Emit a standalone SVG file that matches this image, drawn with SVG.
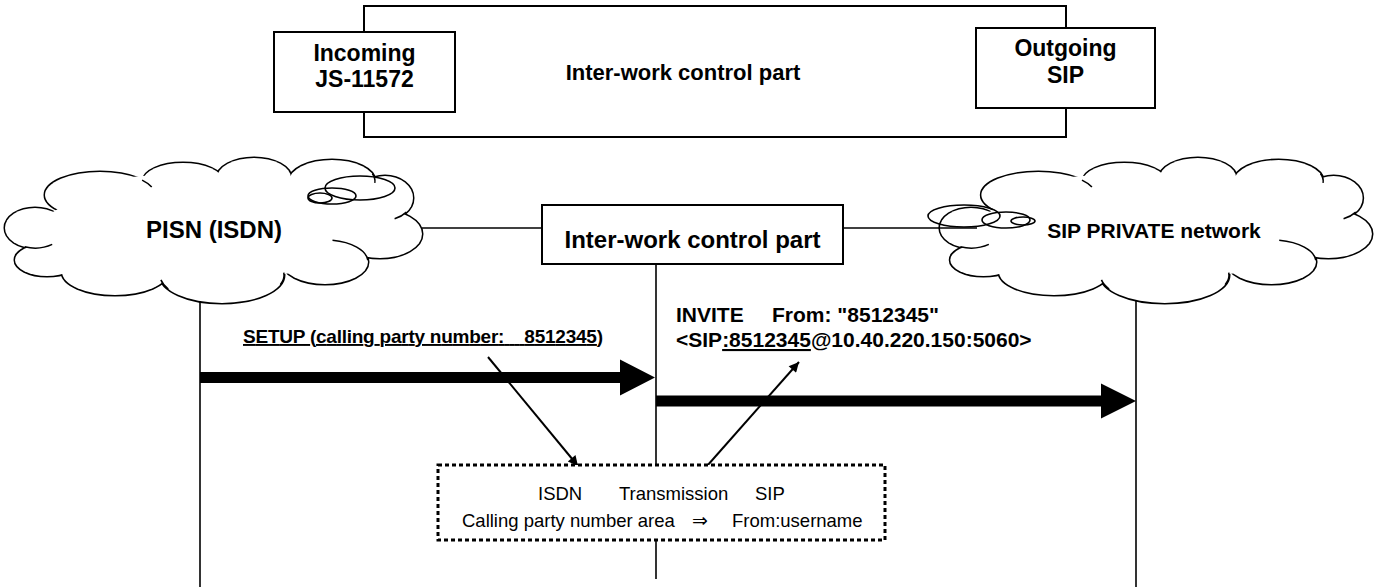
<svg xmlns="http://www.w3.org/2000/svg" xmlns:xlink="http://www.w3.org/1999/xlink" width="1378" height="587" viewBox="0 0 1378 587">
<style>
.t{font-family:"Liberation Sans",Arial,sans-serif;fill:#000}
.b{font-weight:bold}
.box{fill:#fff;stroke:#000;stroke-width:2}
.frame{fill:none;stroke:#000;stroke-width:2}
.ln{stroke:#000;stroke-width:1.6;fill:none}
.dg{stroke:#000;stroke-width:2;fill:none}
.cs{fill:#fff;stroke:#000;stroke-width:3}
.cf{fill:#fff;stroke:none}
.tail{fill:none;stroke:#000;stroke-width:1.5}
.bub{fill:none;stroke:#000;stroke-width:1.6}
.dot{fill:#fff;stroke:#000;stroke-width:3;stroke-dasharray:4 3}
</style>
<defs>
<g id="lobes">
<ellipse cx="100" cy="195" rx="55" ry="23"/>
<ellipse cx="183" cy="181" rx="40" ry="18"/>
<ellipse cx="254" cy="178" rx="37" ry="20"/>
<ellipse cx="332" cy="181" rx="43" ry="21"/>
<ellipse cx="385" cy="198" rx="28" ry="22"/>
<ellipse cx="380" cy="234" rx="42" ry="24"/>
<ellipse cx="325" cy="262" rx="43" ry="22"/>
<ellipse cx="222" cy="275" rx="62" ry="28"/>
<ellipse cx="115" cy="272" rx="53" ry="23"/>
<ellipse cx="47" cy="260" rx="32" ry="16"/>
<ellipse cx="35" cy="228" rx="30" ry="20"/>
</g>
<g id="cloud">
<use xlink:href="#lobes" class="cs"/>
<use xlink:href="#lobes" class="cf"/>
<ellipse class="cf" cx="215" cy="230" rx="175" ry="48"/>
<ellipse class="cf" cx="215" cy="200" rx="160" ry="27"/>
<path class="tail" d="M142.1,180.2 A55,23 0 0,1 151.7,187.1"/>
<path class="tail" d="M372.4,173.8 A43,21 0 0,1 374.8,182.8"/>
<path class="tail" d="M406.4,212.1 A28,22 0 0,1 394.6,218.7"/>
<path class="tail" d="M332.5,240.3 A43,22 0 0,1 367.8,260.1"/>
<path class="tail" d="M280.3,284.6 A62,28 0 0,0 283.8,272.6"/>
<path class="tail" d="M168.3,289 A62,28 0 0,1 160.9,279.9"/>
<path class="tail" d="M24.7,246.8 A30,20 0 0,0 52.2,244.4"/>
</g>
<marker id="ah" viewBox="0 0 10 10" refX="10" refY="5" markerWidth="13" markerHeight="10" markerUnits="userSpaceOnUse" orient="auto"><path d="M0,0 L10,5 L0,10 z" fill="#000"/></marker>
</defs>

<g id="interwork-top">
<rect class="frame" x="364" y="6" width="702" height="131"/>
<text class="t b" x="683" y="80" font-size="22" text-anchor="middle">Inter-work control part</text>
</g>
<g id="incoming">
<rect class="box" x="274" y="32" width="181" height="80"/>
<text class="t b" x="364.5" y="61" font-size="23" text-anchor="middle">Incoming</text>
<text class="t b" x="364.5" y="87" font-size="23" text-anchor="middle">JS-11572</text>
</g>
<g id="outgoing">
<rect class="box" x="976" y="28" width="179" height="80"/>
<text class="t b" x="1065.5" y="56" font-size="23" text-anchor="middle">Outgoing</text>
<text class="t b" x="1065.5" y="83" font-size="23" text-anchor="middle">SIP</text>
</g>

<g id="pisn-cloud">
<use xlink:href="#cloud"/>
<ellipse class="bub" cx="360" cy="188" rx="35" ry="12"/>
<ellipse class="bub" cx="332" cy="196" rx="24" ry="8"/>
<ellipse class="bub" cx="320" cy="198" rx="12" ry="5"/>
<text class="t b" x="214" y="238" font-size="24" text-anchor="middle">PISN (ISDN)</text>
</g>
<g id="sip-cloud">
<use xlink:href="#cloud" transform="translate(934.75,0) scale(1.036,1)"/>
<ellipse class="bub" cx="964" cy="216" rx="36" ry="11"/>
<ellipse class="bub" cx="1006" cy="220" rx="24" ry="8"/>
<ellipse class="bub" cx="1023" cy="221" rx="12" ry="4"/>
<text class="t b" x="1154" y="238" font-size="21" text-anchor="middle">SIP PRIVATE network</text>
</g>

<g id="connectors">
<line class="ln" x1="422" y1="228" x2="542" y2="228"/>
<line class="ln" x1="843" y1="228" x2="977" y2="228"/>
<line class="ln" x1="200" y1="301" x2="200" y2="587"/>
<line class="ln" x1="656" y1="264" x2="656" y2="579"/>
<line class="ln" x1="1136" y1="300" x2="1136" y2="587"/>
<path d="M200,372 H620 V359.5 L655,377.5 L620,395.5 V383 H200 Z" fill="#000"/>
<path d="M656,395.5 H1101 V383.5 L1136,401 L1101,418.5 V406.5 H656 Z" fill="#000"/>
<line class="dg" x1="488" y1="357" x2="578" y2="466" marker-end="url(#ah)"/>
<line class="dg" x1="707" y1="466" x2="799" y2="362" marker-end="url(#ah)"/>
</g>

<g id="interwork-mid">
<rect class="box" x="542" y="205" width="301" height="59"/>
<text class="t b" x="692.5" y="248" font-size="24" text-anchor="middle">Inter-work control part</text>
</g>

<g id="mapping-box">
<rect class="dot" x="438" y="465" width="447" height="75"/>
<text class="t" x="538" y="500" font-size="18.5">ISDN</text>
<text class="t" x="619" y="500" font-size="18.5">Transmission</text>
<text class="t" x="755" y="500" font-size="18.5">SIP</text>
<text class="t" x="462" y="527" font-size="18.5">Calling party number area</text>
<text x="692" y="527" font-size="19" font-family="DejaVu Sans, sans-serif" fill="#000">⇒</text>
<text class="t" x="732" y="527" font-size="18.5">From:username</text>
</g>

<g id="labels">
<text class="t b" x="243" y="343" font-size="19" text-decoration="underline" xml:space="preserve" textLength="360" lengthAdjust="spacing">SETUP (calling party number:    8512345)</text>
<text class="t b" x="676" y="322" font-size="21">INVITE<tspan x="772">From: "8512345"</tspan></text>
<text class="t b" x="676" y="347" font-size="21">&lt;SIP<tspan text-decoration="underline">:8512345</tspan>@10.40.220.150:5060&gt;</text>
</g>
</svg>
